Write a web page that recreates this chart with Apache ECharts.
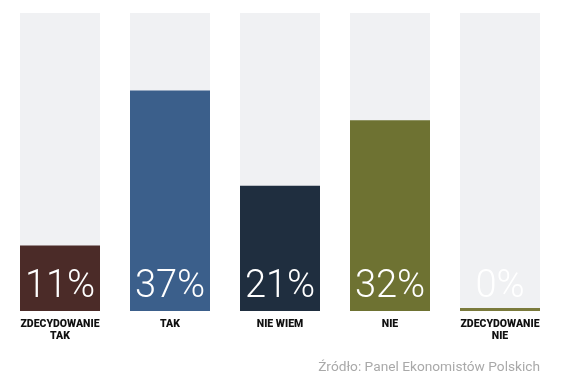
<!DOCTYPE html>
<html><head><meta charset="utf-8">
<script src="https://cdn.jsdelivr.net/npm/echarts@6/dist/echarts.min.js"></script>
<style>html,body{margin:0;padding:0;background:#fff}#c{width:570px;height:392px}</style>
</head><body><div id="c"></div>
<script>
const categories = ['ZDECYDOWANIE\nTAK', 'TAK', 'NIE WIEM', 'NIE', 'ZDECYDOWANIE\nNIE'];
const values = [11, 37, 21, 32, 0];
const colors = ['#4b2b28', '#3b5f8b', '#1f2e3f', '#6e7232', '#7a7a3c'];
const scaleMax = 50;
const source = 'Źródło: Panel Ekonomistów Polskich';

const chart = echarts.init(document.getElementById('c'));
chart.setOption({
  animation: false,
  grid: {left: 5, right: 15, top: 13, bottom: 81},
  xAxis: {
    type: 'category', data: categories,
    axisLine: {show: false}, axisTick: {show: false},
    axisLabel: {interval: 0, margin: 7, color: '#111', fontFamily: 'Roboto', fontWeight: 900, fontSize: 10.5, lineHeight: 12}
  },
  yAxis: {type: 'value', min: 0, max: scaleMax, show: false, splitLine: {show: false}},
  graphic: [{
    type: 'text', right: 30, top: 361,
    style: {text: source, fill: '#a9a9a9', font: '13.7px Roboto'}
  }],
  series: [
    {type: 'bar', barWidth: 80, barGap: '-100%', silent: true,
     itemStyle: {color: '#f0f1f3'},
     data: categories.map(() => scaleMax)},
    {type: 'bar', barWidth: 80, barMinHeight: 3,
     data: values.map((v, i) => ({value: v, itemStyle: {color: colors[i]}})),
     label: {show: true, position: 'insideBottom', distance: 5,
       formatter: p => p.value + '%', color: '#fff', fontFamily: 'Roboto', fontWeight: 300, fontSize: 38}
    }
  ]
});
</script></body></html>
